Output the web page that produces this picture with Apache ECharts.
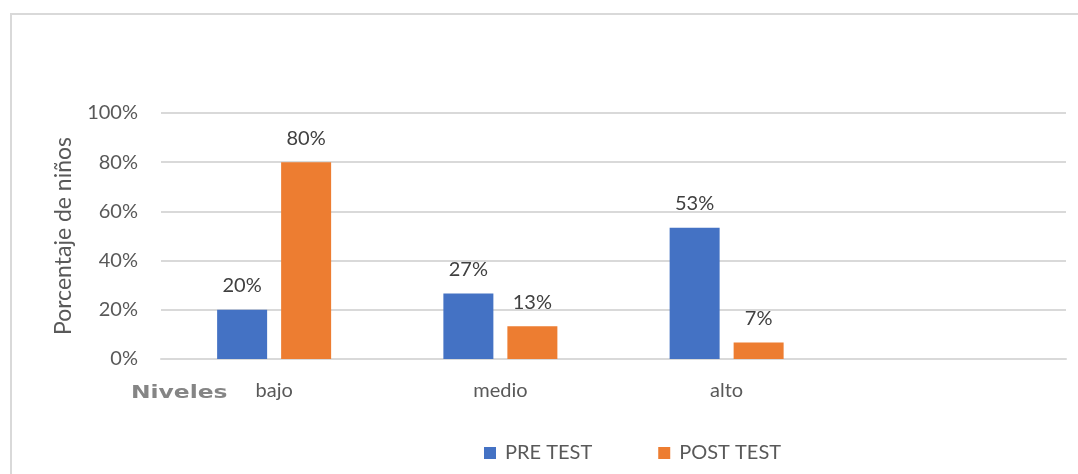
<!DOCTYPE html>
<html>
<head>
<meta charset="utf-8">
<script src="https://cdn.jsdelivr.net/npm/echarts@6/dist/echarts.min.js"></script>
<style>
html,body{margin:0;padding:0;background:#fff;}
#chart{width:1078px;height:474px;}
</style>
</head>
<body>
<div id="chart"></div>
<script>
var categories = ['bajo', 'medio', 'alto', ''];
var preTest = [20, 26.67, 53.33, null];
var postTest = [80, 13.33, 6.67, null];
var yTicks = [0, 20, 40, 60, 80, 100];
var seriesNames = ['PRE TEST', 'POST TEST'];

var FONT = 'Lato';
var TXT = '#595959';
var chart = echarts.init(document.getElementById('chart'), null, {renderer: 'canvas'});

var labelCfg = {
  show: true,
  position: 'top',
  distance: 14,
  color: '#404040',
  fontFamily: FONT,
  fontSize: 20,
  formatter: function (p) { return Math.round(p.value) + '%'; }
};

chart.setOption({
  animation: false,
  backgroundColor: '#fff',
  color: ['#4472C4', '#ED7D31'],
  graphic: [
    {type: 'rect', shape: {x: 11, y: 14, width: 1100, height: 500}, style: {fill: 'none', stroke: '#d9d9d9', lineWidth: 2}, silent: true},
    {type: 'text', left: 131, top: 384, scaleX: 1.3, style: {text: 'Niveles', font: 'bold 18px "DejaVu Sans"', fill: '#858585'}}
  ],
  grid: {left: 161, right: 12, top: 113, bottom: 115, containLabel: false},
  legend: {
    data: seriesNames,
    left: 484,
    top: 443,
    padding: 0,
    icon: 'rect',
    itemWidth: 12,
    itemHeight: 12,
    itemGap: 66,
    textStyle: {color: TXT, fontFamily: FONT, fontSize: 20, padding: [0, 0, 0, 4]}
  },
  xAxis: {
    type: 'category',
    data: categories,
    axisTick: {show: false},
    axisLine: {show: true, lineStyle: {color: '#d9d9d9', width: 2}},
    axisLabel: {color: TXT, fontFamily: FONT, fontSize: 20, margin: 22}
  },
  yAxis: {
    type: 'value',
    min: yTicks[0],
    max: yTicks[yTicks.length - 1],
    interval: yTicks[1] - yTicks[0],
    name: 'Porcentaje de niños',
    nameLocation: 'middle',
    nameGap: 86,
    nameTextStyle: {color: TXT, fontFamily: FONT, fontSize: 23},
    axisLine: {show: false},
    axisTick: {show: false},
    axisLabel: {color: TXT, fontFamily: FONT, fontSize: 20, margin: 23, formatter: '{value}%'},
    splitLine: {lineStyle: {color: '#d9d9d9', width: 2}}
  },
  series: [
    {name: seriesNames[0], type: 'bar', data: preTest, barWidth: 50, barGap: '28%', label: labelCfg},
    {name: seriesNames[1], type: 'bar', data: postTest, barWidth: 50, barGap: '28%', label: labelCfg}
  ]
});
</script>
</body>
</html>
